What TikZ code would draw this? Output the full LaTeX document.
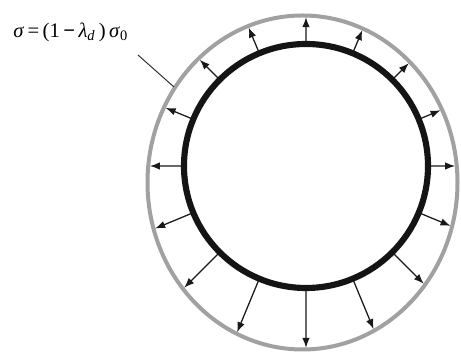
\documentclass[tikz,border=0pt]{standalone}
\usepackage{fontspec}
\setmainfont{Liberation Serif}
\usetikzlibrary{arrows.meta,intersections}
\begin{document}
\begin{tikzpicture}[x=0.75pt,y=0.75pt,
  ring/.style={draw=black!37, line width=3pt},
  wall/.style={draw=black!92, line width=4.6pt},
  force/.style={draw=black!90, line width=0.95pt, shorten >=1.2pt, -{Latex[length=7.5pt,width=5.6pt]}},
  leader/.style={draw=black!85, line width=0.7pt},
  lbl/.style={font=\fontsize{15.5}{18}\selectfont, inner sep=0pt, anchor=west}]
\useasboundingbox (0,0) rectangle (461,352);
\coordinate (C) at (306,186);
\coordinate (E) at (302.5,169.5);
\draw[ring, name path=ell] (E) ellipse [x radius=116.25pt, y radius=125.25pt];
\foreach \a in {0,22.5,...,337.5}{
  \path[name path=ray] (C) -- ++(\a:250);
  \path (C) ++(\a:122) coordinate (S);
  \draw[force, name intersections={of=ell and ray, by=T}] (S) -- (T);
}
\draw[wall] (C) circle [radius=91.5pt];
\node[lbl] (lab) at (13,320) {\textit{σ}\,=\,(1\,\textbf{−}\,\textit{λ}\textsubscript{\textit{d}}\,)\,\textit{σ}\textsubscript{0}};
\coordinate (L1) at (138,297);
\coordinate (L2) at (174,265);
\draw[leader] (L1) -- (L2);
\end{tikzpicture}
\end{document}
